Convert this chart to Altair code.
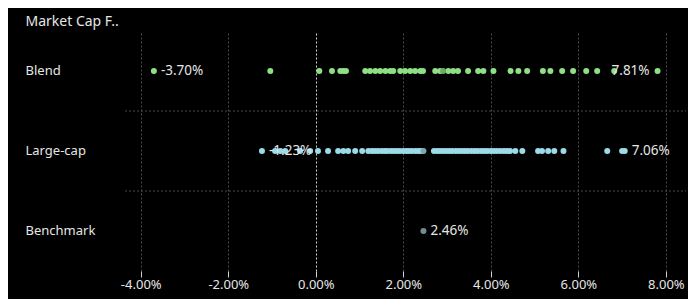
import altair as alt
import pandas as pd

categories = ["Blend", "Large-cap", "Benchmark"]

blend_values = [-3.70, -1.04, 0.08, 0.37, 0.56, 0.63, 0.69, 1.13, 1.24, 1.36,
                1.47, 1.59, 1.70, 1.77, 1.93, 2.04, 2.16, 2.27, 2.39, 2.45,
                2.73, 2.84, 3.03, 3.14, 3.25, 3.48, 3.71, 3.83, 4.06, 4.45,
                4.63, 4.83, 5.19, 5.36, 5.63, 5.88, 6.18, 6.43, 6.82, 7.81]
large_values = [-1.23, -0.93, -0.81, -0.70, -0.36, -0.13, 0.05, 0.28, 0.51, 0.63, 0.74,
                0.90, 1.06, 1.20, 1.28, 1.35, 1.42, 1.50, 1.57, 1.63, 1.71, 1.78, 1.85,
                1.92, 2.00, 2.07, 2.13, 2.20, 2.28, 2.35, 2.41, 2.70, 2.77, 2.84, 2.91,
                2.98, 3.05, 3.12, 3.20, 3.27, 3.34, 3.41, 3.48, 3.56, 3.63, 3.70, 3.78,
                3.85, 3.92, 4.00, 4.07, 4.14, 4.22, 4.30, 4.37, 4.44, 4.56, 4.72, 5.08,
                5.17, 5.31, 5.45, 5.66, 6.66, 7.00, 7.06]
benchmark_values = [2.46]

highlight_cats = ["Blend", "Large-cap"]
highlight_values = [2.91, 2.46]

label_cats = ["Blend", "Blend", "Large-cap", "Large-cap", "Benchmark"]
label_values = [-3.70, 7.81, -1.23, 7.06, 2.46]
label_side = ["right", "left", "right", "right", "right"]

tick_values = [-4, -2, 0, 2, 4, 6, 8]
separator_cats = ["Large-cap", "Benchmark"]

colors = ["#8fdf85", "#9cdbe8", "#728c9b"]
highlight_colors = ["#6fa868", "#78a9b4"]

rows = []
for v in blend_values:
    rows.append({"cat": "Blend", "v": v})
for v in large_values:
    rows.append({"cat": "Large-cap", "v": v})
for v in benchmark_values:
    rows.append({"cat": "Benchmark", "v": v})
points_df = pd.DataFrame(rows)

hl_df = pd.DataFrame({"cat": highlight_cats, "v": highlight_values})
lab_df = pd.DataFrame({"cat": label_cats, "v": label_values, "side": label_side})
lab_df["txt"] = [f"{v:.2f}%" for v in label_values]
sep_df = pd.DataFrame({"cat": separator_cats})

xscale = alt.Scale(domain=[-4.36, 8.46], nice=False, zero=False)
yscale = alt.Scale(domain=categories, paddingInner=0, paddingOuter=0)
FONT = "Noto Sans"
TXT = "#e6e6e6"

x_axis = alt.Axis(
    values=tick_values,
    labelExpr="replace(format(datum.value, '.2f'), '\u2212', '-') + '%'",
    title=None,
    domain=False,
    grid=True,
    gridDash=[2, 2],
    gridColor={"condition": {"test": "datum.value === 0", "value": "#d0d0d0"}, "value": "#4a4a4a"},
    gridWidth=1,
    tickColor="#cfcfcf",
    tickSize=6,
    labelColor=TXT,
    labelFontSize=13,
    labelFont=FONT,
    labelPadding=1,
)

y_axis = alt.Axis(
    title="Market Cap F..",
    titleAngle=0,
    titleAlign="left",
    titleBaseline="middle",
    titleX=-100,
    titleY=-10,
    titleColor=TXT,
    titleFont=FONT,
    titleFontSize=14,
    titleFontWeight="normal",
    labelAlign="left",
    labelPadding=100,
    labelColor=TXT,
    labelFont=FONT,
    labelFontSize=13,
    ticks=False,
    domain=False,
    grid=False,
)

base_points = alt.Chart(points_df).mark_circle(size=36, opacity=1).encode(
    x=alt.X("v:Q", scale=xscale, axis=x_axis),
    y=alt.Y("cat:N", scale=yscale, axis=y_axis, sort=categories),
    color=alt.Color("cat:N", scale=alt.Scale(domain=categories, range=colors), legend=None),
)

seps = alt.Chart(sep_df).mark_rule(color="#4a4a4a", strokeDash=[2, 2], strokeWidth=1).encode(
    y=alt.Y("cat:N", scale=yscale, sort=categories, bandPosition=0),
    x=alt.value(0),
    x2=alt.value(561),
)

hl = alt.Chart(hl_df).mark_circle(size=36, opacity=1).encode(
    x=alt.X("v:Q", scale=xscale),
    y=alt.Y("cat:N", scale=yscale, sort=categories),
    color=alt.Color("cat:N", scale=alt.Scale(domain=highlight_cats, range=highlight_colors), legend=None),
)

text_right = alt.Chart(lab_df).transform_filter("datum.side === 'right'").mark_text(
    align="left", baseline="middle", dx=7, fontSize=13.5, font=FONT, color=TXT
).encode(
    x=alt.X("v:Q", scale=xscale),
    y=alt.Y("cat:N", scale=yscale, sort=categories),
    text="txt:N",
)
text_left = alt.Chart(lab_df).transform_filter("datum.side === 'left'").mark_text(
    align="right", baseline="middle", dx=-8, fontSize=13.5, font=FONT, color=TXT
).encode(
    x=alt.X("v:Q", scale=xscale),
    y=alt.Y("cat:N", scale=yscale, sort=categories),
    text="txt:N",
)

chart = alt.layer(seps, base_points, hl, text_right, text_left).resolve_scale(
    color="independent"
).properties(
    width=561,
    height=240,
    autosize=alt.AutoSizeParams(type="none"),
    padding={"left": 117, "top": 23, "right": 2, "bottom": 28},
).configure(background="black").configure_view(stroke=None)

chart.save("out.html", embed_options={"renderer": "svg", "actions": False})
